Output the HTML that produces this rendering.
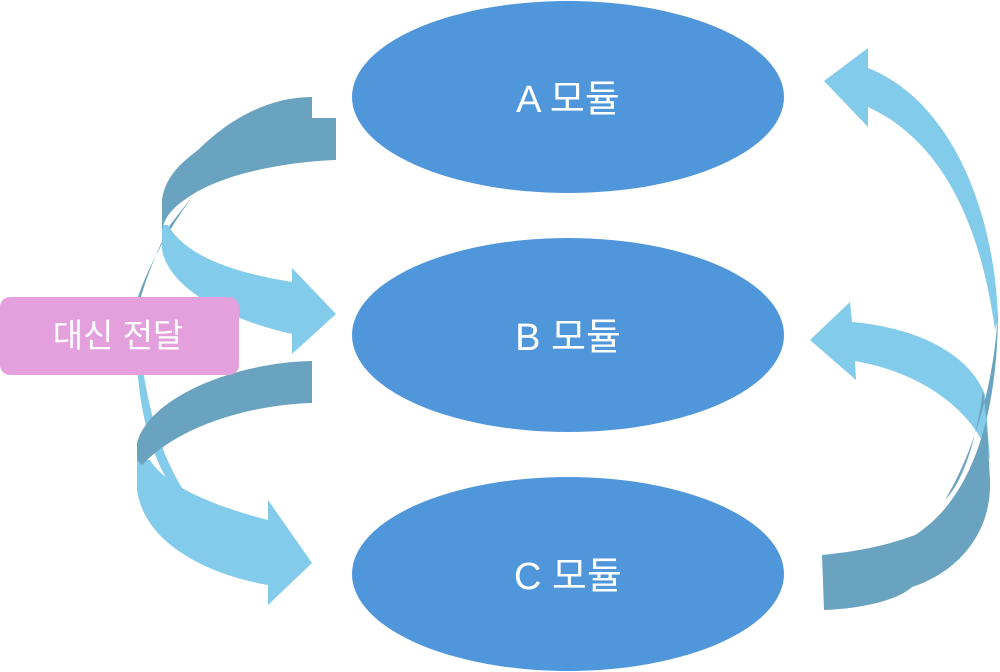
<!DOCTYPE html>
<html><head><meta charset="utf-8"><style>
html,body{margin:0;padding:0;background:#fff;}
svg{display:block}
text{font-family:"Liberation Sans","Noto Sans CJK KR",sans-serif;fill:#fff}
</style></head><body>
<svg width="1000" height="672" viewBox="0 0 1000 672" xmlns="http://www.w3.org/2000/svg">
<!-- left top arrow -->
<path d="M195,193 C175,220 150,260 137,300 L140,300 C150,265 165,235 170,225 Z" fill="#69a3bf"/>
<path d="M162,225 L162,250 C170,290 230,320 292,334 L292,354 L336,314 L292,268 L292,282 C230,272 185,255 168,225 Z" fill="#82cbea"/>
<path d="M312,97 L312,118 L336,118 L336,160 C280,162 225,175 195,193 C175,205 165,215 162,230 L162,200 C165,175 185,160 198,150 C230,118 270,97 312,97 Z" fill="#69a3bf"/>
<!-- thin light strip under label -->
<path d="M137,363 C140,420 155,470 183,502 L190,500 C165,465 150,420 142,363 Z" fill="#82cbea"/>
<!-- left bottom arrow -->
<path d="M137,460 L137,490 C145,545 210,575 268,585 L268,605 L312,563 L268,500 L268,520 C210,505 165,485 150,460 Z" fill="#82cbea"/>
<path d="M312,361 L312,403 C250,405 180,425 142,465 L137,460 L137,443 C150,395 240,362 312,361 Z" fill="#69a3bf"/>
<!-- label -->
<rect x="0" y="297" width="239" height="78" rx="10" fill="#e3a0dd"/>
<text x="118" y="347" font-size="33" text-anchor="middle">대신 전달</text>
<!-- ellipses -->
<ellipse cx="568" cy="97" rx="216" ry="96" fill="#5096da"/>
<ellipse cx="568" cy="335" rx="216" ry="97" fill="#5096da"/>
<ellipse cx="568" cy="574" rx="216" ry="97" fill="#5096da"/>
<text x="568" y="112" font-size="38" text-anchor="middle">A 모듈</text>
<text x="568" y="350" font-size="38" text-anchor="middle">B 모듈</text>
<text x="568" y="589" font-size="38" text-anchor="middle">C 모듈</text>
<!-- right middle arrow B -->
<path d="M810,340 L850,302 L852,322 C920,328 970,355 985,395 L990,460 C975,410 920,372 855,361 L856,380 Z" fill="#82cbea"/>
<!-- right big arrow A -->
<path d="M824,81 L868,48 L868,68 C950,100 995,210 998,320 L995,330 C980,220 940,140 868,107 L868,127 Z" fill="#82cbea"/>
<!-- dark back part -->
<path d="M998,310 C998,420 970,500 915,535 C880,548 850,552 822,555 L824,610 C870,608 900,598 912,587 C950,575 992,540 990,480 C988,440 986,410 983,390 C975,450 960,485 945,500 C975,450 995,380 998,310 Z" fill="#69a3bf"/>
</svg>
</body></html>
